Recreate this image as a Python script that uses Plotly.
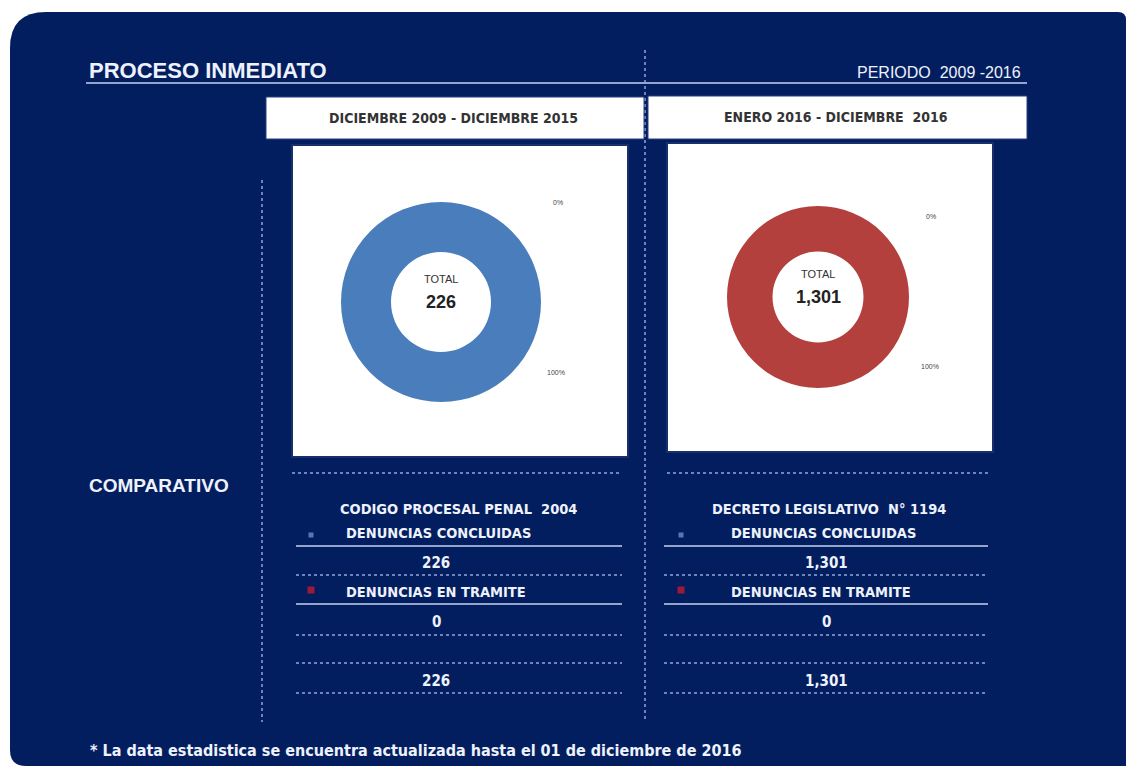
import plotly.graph_objects as go

# reference canvas size
W, H = 1126, 766

# ---- data ----
periods = ["DICIEMBRE 2009 - DICIEMBRE 2015", "ENERO 2016 - DICIEMBRE  2016"]
laws = ["CODIGO PROCESAL PENAL  2004", "DECRETO LEGISLATIVO  N° 1194"]
categories = ["DENUNCIAS CONCLUIDAS", "DENUNCIAS EN TRAMITE"]
concluidas = [226, 1301]
en_tramite = [0, 0]
totals = [c + t for c, t in zip(concluidas, en_tramite)]
ring_colors = ["#4a7dbb", "#b4403e"]
legend_colors = ["#7d9bd6", "#e3142a"]
title = "PROCESO INMEDIATO"
periodo = "PERIODO  2009 -2016"
side_label = "COMPARATIVO"
footnote = "* La data estadistica se encuentra actualizada hasta el 01 de diciembre de 2016"

NAVY = "#031e5f"
TXT = "#eef2fc"
LINE = "#c6d2f0"
DOT = "#93a5d8"
NARROW = "Liberation Sans Narrow, Arial Narrow, DejaVu Sans Condensed, sans-serif"
SANS = "Liberation Sans, Arial, sans-serif"


def px(x):
    return x / W


def py(y):
    return 1 - y / H


def P(x, y):
    return f"{px(x):.5f},{py(y):.5f}"


fig = go.Figure()
shapes = []
ann = []

# navy panel
path = (f"M {P(10,750)} L {P(10,48)} Q {P(10,12)} {P(46,12)} L {P(1118,12)} "
        f"Q {P(1126,12)} {P(1126,20)} L {P(1126,766)} L {P(26,766)} Q {P(10,766)} {P(10,750)} Z")
shapes.append(dict(type="path", path=path, xref="paper", yref="paper",
                   fillcolor=NAVY, line=dict(width=0), layer="below"))


def hline(x0, x1, y, dot=False, color=None, width=1.5):
    shapes.append(dict(type="line", xref="paper", yref="paper",
                       x0=px(x0), x1=px(x1), y0=py(y), y1=py(y),
                       line=dict(color=color or (DOT if dot else LINE), width=width,
                                 dash="dot" if dot else "solid"), layer="below"))


def vline(x, y0, y1):
    shapes.append(dict(type="line", xref="paper", yref="paper",
                       x0=px(x), x1=px(x), y0=py(y0), y1=py(y1),
                       line=dict(color=DOT, width=1.5, dash="dot"), layer="below"))


def rect(x0, y0, x1, y1, fill="white", border="#1a2f70", bw=1):
    shapes.append(dict(type="rect", xref="paper", yref="paper",
                       x0=px(x0), x1=px(x1), y0=py(y1), y1=py(y0),
                       fillcolor=fill, line=dict(color=border, width=bw), layer="below"))


def text(x, y, s, size, color=TXT, bold=False, family=NARROW, xanchor="center"):
    ann.append(dict(x=px(x), y=py(y), xref="paper", yref="paper", showarrow=False,
                    text=f"<b>{s}</b>" if bold else s, xanchor=xanchor, yanchor="middle",
                    font=dict(size=size, color=color, family=family)))


# header
text(87, 71, title, 22, bold=True, family=SANS, xanchor="left")
text(1023, 73, periodo, 16, family=SANS, xanchor="right")
hline(86, 1027, 83, color=LINE, width=1.5)
vline(645, 50, 722)
vline(262, 180, 722)

# period boxes
boxes = [(266, 97, 644, 139), (648, 96, 1027, 139)]
for (x0, y0, x1, y1), lab in zip(boxes, periods):
    rect(x0, y0, x1, y1, border="#2b3f80")
    text((x0 + x1) / 2 - 2, (y0 + y1) / 2, lab, 14, color="#333333", bold=True, family=NARROW)

# chart boxes
chart_boxes = [(292, 145, 628, 457), (667, 143, 993, 452)]
for b in chart_boxes:
    rect(*b, border="#1b2e6c", bw=2)

# donuts
centers = [(441, 302, 100), (818, 297, 91)]
pct_pos = [((558, 203), (556, 372)), ((931, 216), (930, 366))]
for i in range(2):
    cx, cy, r = centers[i]
    fig.add_trace(go.Pie(
        values=[concluidas[i], en_tramite[i]], labels=categories,
        marker=dict(colors=[ring_colors[i], legend_colors[1]], line=dict(width=0)),
        hole=0.5, sort=False, direction="clockwise", textinfo="none",
        hoverinfo="label+value+percent", showlegend=False,
        domain=dict(x=[px(cx - r), px(cx + r)], y=[py(cy + r), py(cy - r)])))
    text(cx, cy - 23, "TOTAL", 11, color="#333333", family=SANS)
    text(cx, cy, f"{totals[i]:,}", 18, color="#222222", bold=True, family=SANS)
    p_tram = round(100 * en_tramite[i] / totals[i])
    p_conc = round(100 * concluidas[i] / totals[i])
    (ax, ay), (bx, by) = pct_pos[i]
    text(ax, ay, f"{p_tram}%", 7, color="#444444", family=SANS)
    text(bx, by, f"{p_conc}%", 7, color="#444444", family=SANS)

# comparative
text(87, 485, side_label, 19, bold=True, family=SANS, xanchor="left")
cols = [dict(x0=296, x1=622, law_x=458, sq_x=311, lab_x=344, num_x=436, dx0=292),
        dict(x0=664, x1=988, law_x=829, sq_x=681, lab_x=729, num_x=826, dx0=667)]
sq_x, sq_y, sq_c = [], [], []
for i, c in enumerate(cols):
    hline(c["dx0"], c["x1"], 473, dot=True)
    text(c["law_x"], 509, laws[i], 14.5, bold=True)
    text(c["lab_x"], 533, categories[0], 14.5, bold=True, xanchor="left")
    hline(c["x0"], c["x1"], 546)
    text(c["num_x"], 563, f"{concluidas[i]:,}", 15, bold=True)
    hline(c["x0"], c["x1"], 575, dot=True)
    text(c["lab_x"], 592, categories[1], 14.5, bold=True, xanchor="left")
    hline(c["x0"], c["x1"], 604)
    text(c["num_x"], 622, f"{en_tramite[i]:,}", 15, bold=True)
    hline(c["x0"], c["x1"], 635, dot=True)
    hline(c["x0"], c["x1"], 663, dot=True)
    text(c["num_x"], 681, f"{totals[i]:,}", 15, bold=True)
    hline(c["x0"], c["x1"], 693, dot=True)
    sq_x += [c["sq_x"], c["sq_x"]]
    sq_y += [535, 590]
    sq_c += legend_colors

# legend squares placed through hidden pixel axes (reference pixel coordinates)
fig.add_trace(go.Scatter(x=sq_x, y=sq_y, mode="markers", showlegend=False, hoverinfo="skip",
                         marker=dict(symbol="square", size=[5, 7, 5, 7], color=sq_c, line=dict(width=0))))

text(88, 750, footnote, 16, bold=True, xanchor="left")

fig.update_layout(
    width=W, height=H, margin=dict(l=0, r=0, t=0, b=0),
    paper_bgcolor="white", plot_bgcolor="rgba(0,0,0,0)",
    xaxis=dict(range=[0, W], visible=False, fixedrange=True),
    yaxis=dict(range=[H, 0], visible=False, fixedrange=True),
    shapes=shapes, annotations=ann, showlegend=False,
)
fig.write_html("out.html", config={"displayModeBar": False},
               post_script="document.body.style.margin='0';document.body.style.overflow='hidden';")
